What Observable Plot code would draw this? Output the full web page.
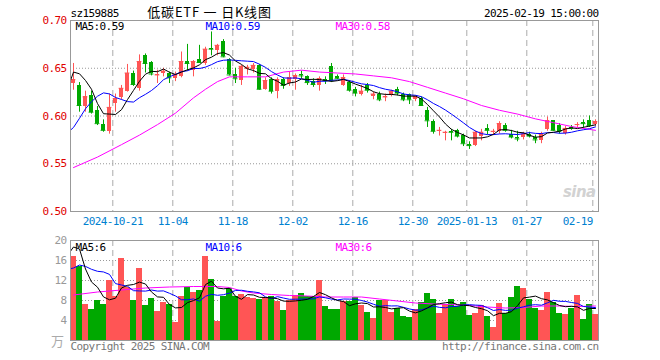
<!DOCTYPE html>
<html><head><meta charset="utf-8">
<script src="https://cdn.jsdelivr.net/npm/d3@7"></script>
<script src="https://cdn.jsdelivr.net/npm/@observablehq/plot@0.6"></script>
<style>
body{margin:0;background:#fff;}
#wrap{position:relative;width:660px;height:360px;overflow:hidden;background:#fff;}
#wrap svg{position:absolute;left:0;}
</style></head><body><div id="wrap"></div>
<script>
const dates = ["2024-10-10","2024-10-11","2024-10-14","2024-10-15","2024-10-16","2024-10-17","2024-10-18","2024-10-21","2024-10-22","2024-10-23","2024-10-24","2024-10-25","2024-10-28","2024-10-29","2024-10-30","2024-10-31","2024-11-01","2024-11-04","2024-11-05","2024-11-06","2024-11-07","2024-11-08","2024-11-11","2024-11-12","2024-11-13","2024-11-14","2024-11-15","2024-11-18","2024-11-19","2024-11-20","2024-11-21","2024-11-22","2024-11-25","2024-11-26","2024-11-27","2024-11-28","2024-11-29","2024-12-02","2024-12-03","2024-12-04","2024-12-05","2024-12-06","2024-12-09","2024-12-10","2024-12-11","2024-12-12","2024-12-13","2024-12-16","2024-12-17","2024-12-18","2024-12-19","2024-12-20","2024-12-23","2024-12-24","2024-12-25","2024-12-26","2024-12-27","2024-12-30","2024-12-31","2025-01-02","2025-01-03","2025-01-06","2025-01-07","2025-01-08","2025-01-09","2025-01-10","2025-01-13","2025-01-14","2025-01-15","2025-01-16","2025-01-17","2025-01-20","2025-01-21","2025-01-22","2025-01-23","2025-01-24","2025-01-27","2025-02-05","2025-02-06","2025-02-07","2025-02-10","2025-02-11","2025-02-12","2025-02-13","2025-02-14","2025-02-17","2025-02-18","2025-02-19"];
const opens = [.634,.632,.610,.621,.606,.591,.584,.613,.619,.626,
.644,.629,.663,.656,.642,.644,.644,.639,.641,.657,
.648,.659,.655,.671,.669,.678,.659,.643,.637,.649,
.649,.653,.628,.638,.626,.638,.634,.638,.643,.641,
.636,.632,.638,.652,.641,.632,.635,.628,.623,.632,
.620,.623,.619,.621,.628,.623,.622,.617,.618,.606,
.594,.584,.582,.584,.585,.580,.570,.569,.579,.587,
.583,.584,.590,.581,.578,.577,.581,.578,.574,.586,
.595,.590,.582,.588,.590,.593,.595,.591];
const highs = [.655,.635,.626,.626,.610,.596,.623,.623,.632,.654,
.647,.664,.665,.657,.648,.650,.646,.646,.667,.675,
.658,.674,.672,.688,.675,.680,.660,.650,.653,.653,
.655,.654,.640,.640,.640,.640,.646,.644,.647,.642,
.639,.641,.641,.655,.643,.643,.637,.630,.632,.634,
.625,.625,.623,.627,.630,.624,.623,.621,.620,.609,
.596,.588,.584,.586,.586,.581,.573,.584,.586,.591,
.586,.594,.592,.585,.584,.583,.583,.580,.583,.599,
.595,.592,.589,.590,.593,.596,.600,.596];
const lows = [.627,.604,.604,.602,.590,.583,.581,.604,.617,.625,
.631,.626,.645,.642,.634,.641,.634,.636,.640,.647,
.641,.656,.653,.663,.663,.661,.642,.634,.632,.643,
.645,.627,.627,.623,.618,.628,.631,.627,.639,.632,
.630,.626,.633,.635,.638,.631,.625,.620,.621,.624,
.617,.615,.615,.620,.621,.615,.612,.615,.610,.588,
.581,.579,.574,.574,.577,.568,.565,.568,.574,.580,
.580,.581,.583,.576,.573,.575,.577,.571,.571,.584,
.584,.581,.580,.585,.588,.587,.588,.589];
const closes = [.638,.611,.620,.604,.592,.585,.609,.618,.629,.645,
.633,.657,.655,.644,.643,.647,.640,.643,.657,.655,
.657,.656,.670,.670,.674,.662,.643,.639,.652,.651,
.653,.628,.637,.626,.638,.632,.640,.642,.642,.635,
.633,.639,.637,.637,.639,.640,.627,.624,.626,.627,
.623,.617,.620,.626,.624,.617,.617,.620,.611,.595,
.584,.585,.583,.583,.579,.571,.569,.583,.583,.585,
.584,.592,.585,.578,.576,.581,.579,.575,.581,.595,
.585,.584,.587,.587,.591,.592,.590,.594];
const volumes = [16.9,14.9,7.3,6.2,8.0,7.2,12.0,8.9,16.4,10.7,
8.0,14.4,7.0,8.4,5.8,7.6,7.2,3.6,8.8,10.7,
9.6,10.0,16.8,12.2,3.9,8.8,10.5,8.8,9.2,8.6,
8.4,8.2,8.6,8.8,7.8,6.0,8.0,9.0,9.4,8.8,
8.8,12.0,6.8,6.2,6.2,7.8,7.8,8.7,7.0,5.6,
4.4,8.0,8.0,5.6,6.4,4.8,4.6,6.2,7.6,9.4,
8.2,5.4,7.2,8.2,6.8,7.6,5.0,5.4,7.0,4.8,
2.6,7.4,5.4,8.6,10.8,10.4,8.2,6.4,6.0,9.6,
7.6,5.4,5.2,6.4,9.0,4.2,7.2,5.2];
// estimated closes / volumes of the 9 sessions before the window (read from the MA lines' left ends)
const preCloses = [.515,.52,.53,.535,.55,.62,.655,.65,.667];
const preVolumes = [9,10,12,12,8.5,16.9,27.3,19.2,13.2];
// MA30
const ma30Idx = [0,4,8,11,14,17,20,22,24,26,29,32,35,38,41,44,47,50,53,56,59,62,65,68,71,74,77,80,83,87];
const ma30Val = [.546,.557,.570,.580,.591,.603,.619,.628,.636,.641,.641,.641,.646,.648,.646,.645,.644,.642,.640,.636,.630,.624,.618,.611,.606,.602,.597,.593,.589,.585];
const vma30Idx = [0,4,8,12,16,20,24,26,28,30,33,36,39,42,45,48,51,54,57,60,63,66,69,72,75,78,81,84,87];
const vma30Val = [9.1,9.7,10.1,10.5,10.7,10.8,10.8,10.6,9.9,9.5,9.2,9.0,8.9,8.7,8.7,8.7,8.3,7.9,7.5,7.3,7.2,7.0,6.7,6.5,6.6,6.9,6.9,6.8,6.9];
const priceTicks = [0.70,0.65,0.60,0.55,0.50];
const volTicks = [20,16,12,8,4];
const tickDates = ["2024-10-21","2024-11-04","2024-11-18","2024-12-02","2024-12-16","2024-12-30","2025-01-13","2025-01-27","2025-02-19"];
const tickLabels = ["2024-10-21","11-04","11-18","12-02","12-16","12-30","2025-01-13","01-27","02-19"];
const priceLegend = ["MA5:0.59","MA10:0.59","MA30:0.58"];
const volLegend = ["MA5:6","MA10:6","MA30:6"];
const title = "低碳ETF 一 日K线图";
const code = "sz159885";
const stamp = "2025-02-19 15:00:00";

const RED = "#ff5555", GREEN = "#00a800", BLUE = "#0000ff", MAG = "#ff00ff";
const data = dates.map((d, i) => ({i, date: d, open: opens[i], high: highs[i], low: lows[i], close: closes[i], vol: volumes[i]}));
const col = d => d.close >= d.open ? RED : GREEN;
const closeSeries = preCloses.map((c, k) => ({i: k - preCloses.length, c})).concat(closes.map((c, i) => ({i, c})));
const volSeries = preVolumes.map((v, k) => ({i: k - preVolumes.length, v})).concat(volumes.map((v, i) => ({i, v})));
const ma30 = ma30Idx.map((i, k) => ({i, v: ma30Val[k]}));
const vma30 = vma30Idx.map((i, k) => ({i, v: vma30Val[k]}));
const tickIdx = tickDates.map(d => dates.indexOf(d));
const ticks = tickIdx.map((i, k) => ({i, label: tickLabels[k]}));
const legendColors = ["#000", BLUE, MAG];
const legendDx = [5, 135, 265];

const common = {
  width: 660, marginLeft: 70, marginRight: 62,
  x: {type: "linear", domain: [-0.5, dates.length - 0.5], axis: null},
  color: {type: "identity"},
  style: "font-family:'DejaVu Sans Mono',monospace;font-size:11px;letter-spacing:-0.6px;overflow:visible;background:transparent;"
};
const gx = d => d.i - 0.45;
const T = {lineAnchor: "middle"};

const main = Plot.plot({
  ...common, height: 232, marginTop: 20, marginBottom: 21,
  y: {domain: [0.5, 0.7], axis: null},
  marks: [
    Plot.ruleY(priceTicks.slice(1, -1), {stroke: "#999", strokeDasharray: "1,2"}),
    Plot.ruleX(ticks, {x: gx, stroke: "#aaa", strokeDasharray: "6,4"}),
    Plot.ruleX(data, {x: "i", y1: "low", y2: "high", stroke: col}),
    Plot.rect(data, {x1: d => d.i - 0.4, x2: d => d.i + 0.4, y1: "open", y2: "close", fill: col, shapeRendering: "crispEdges"}),
    Plot.ruleY(data, {y: "close", x1: d => d.i - 0.4, x2: d => d.i + 0.4, stroke: col}),
    Plot.line(ma30, {x: "i", y: "v", stroke: MAG, strokeWidth: 1, clip: true}),
    Plot.lineY(closeSeries, Plot.windowY({k: 10, anchor: "end"}, {x: "i", y: "c", stroke: BLUE, strokeWidth: 1, clip: true})),
    Plot.lineY(closeSeries, Plot.windowY({k: 5, anchor: "end"}, {x: "i", y: "c", stroke: "#000", strokeWidth: 1, clip: true})),
    Plot.frame({stroke: "#999"}),
    Plot.text(priceTicks, {...T, y: d => d, text: d => d.toFixed(2), frameAnchor: "left", textAnchor: "end", dx: -4, fill: "#e00000"}),
    Plot.text(ticks.slice(0, -1), {...T, x: gx, text: "label", frameAnchor: "bottom", dy: 10, fill: "#0080d0"}),
    Plot.text(ticks.slice(-1), {...T, x: gx, text: "label", frameAnchor: "bottom", textAnchor: "end", dy: 10, fill: "#0080d0"}),
    ...priceLegend.map((t, k) => Plot.text([t], {...T, frameAnchor: "top-left", textAnchor: "start", dx: legendDx[k], dy: 6, fill: legendColors[k]})),
    Plot.text([code], {...T, frameAnchor: "top-left", textAnchor: "start", dy: -7, fill: "#000"}),
    Plot.text([stamp], {...T, frameAnchor: "top-right", textAnchor: "end", dy: -7, fill: "#000"}),
    Plot.text([title], {...T, frameAnchor: "top-left", textAnchor: "middle", dx: 139, dy: -8, fill: "#000", fontSize: 13, fontFamily: "'Noto Sans CJK SC'"}),
    Plot.text(["sina"], {...T, frameAnchor: "bottom-right", textAnchor: "end", dx: -3, dy: -19, fill: "#d2d2d2", fontSize: 15, fontWeight: "bold", fontStyle: "italic", fontFamily: "'DejaVu Sans'"})
  ]
});

const vol = Plot.plot({
  ...common, height: 128, marginTop: 8, marginBottom: 20,
  y: {domain: [0, 20], axis: null},
  marks: [
    Plot.ruleY(volTicks.slice(1), {stroke: "#999", strokeDasharray: "1,2"}),
    Plot.ruleX(ticks, {x: gx, stroke: "#aaa", strokeDasharray: "6,4"}),
    Plot.rect(data, {x1: d => d.i - 0.42, x2: d => d.i + 0.42, y1: 0, y2: "vol", fill: col, shapeRendering: "crispEdges"}),
    Plot.line(vma30, {x: "i", y: "v", stroke: MAG, strokeWidth: 1, clip: true}),
    Plot.lineY(volSeries, Plot.windowY({k: 10, anchor: "end"}, {x: "i", y: "v", stroke: BLUE, strokeWidth: 1, clip: true})),
    Plot.lineY(volSeries, Plot.windowY({k: 5, anchor: "end"}, {x: "i", y: "v", stroke: "#000", strokeWidth: 1, clip: true})),
    Plot.frame({stroke: "#999"}),
    Plot.text(volTicks, {...T, y: d => d, text: d => String(d), frameAnchor: "left", textAnchor: "end", dx: -4, fill: "#999"}),
    Plot.text(["万"], {...T, frameAnchor: "bottom-left", textAnchor: "end", dx: -7, dy: 1, fill: "#aaa", fontSize: 13, fontFamily: "'Noto Sans CJK SC'"}),
    ...volLegend.map((t, k) => Plot.text([t], {...T, frameAnchor: "top-left", textAnchor: "start", dx: legendDx[k], dy: 7, fill: legendColors[k]})),
    Plot.text(["Copyright 2025 SINA.COM"], {...T, frameAnchor: "bottom-left", textAnchor: "start", dy: 6, fill: "#777"}),
    Plot.text(["http://finance.sina.com.cn"], {...T, frameAnchor: "bottom-right", textAnchor: "end", dy: 6, fill: "#777"})
  ]
});

main.querySelectorAll("text").forEach(t => {
  if (t.textContent === title) t.setAttribute("style", "letter-spacing:0.8px");
});

const wrap = document.getElementById("wrap");
main.style.top = "0px";
vol.style.top = "232px";
wrap.appendChild(main);
wrap.appendChild(vol);
</script>
</body></html>
